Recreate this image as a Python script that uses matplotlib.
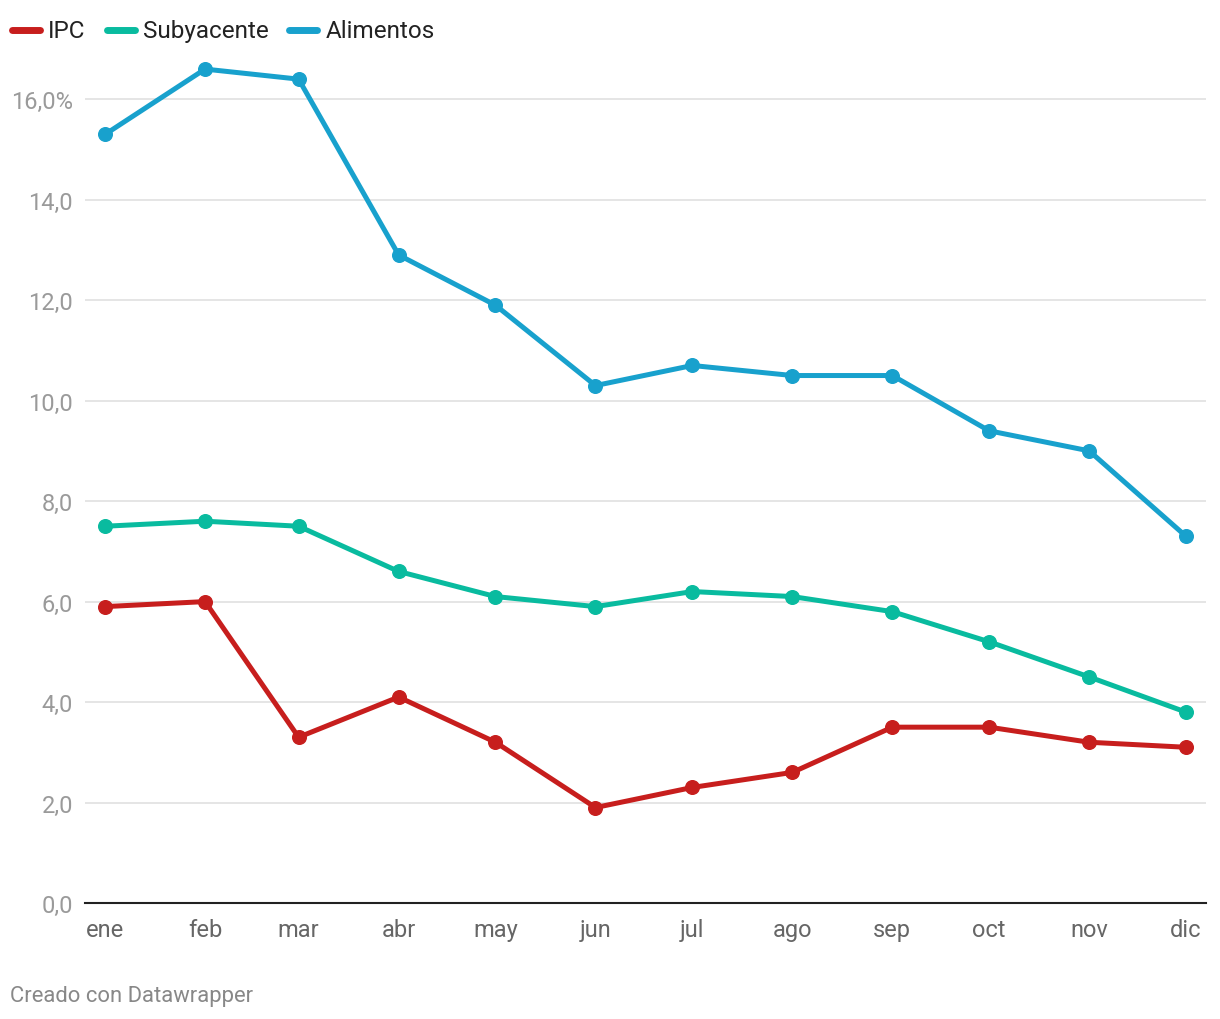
import matplotlib
matplotlib.use("Agg")
import matplotlib.pyplot as plt
import matplotlib.dates as mdates
from matplotlib.lines import Line2D
import numpy as np
import datetime as dt

months = ["ene", "feb", "mar", "abr", "may", "jun", "jul", "ago", "sep", "oct", "nov", "dic"]
dates = [dt.date(2024, m, 1) for m in range(1, 13)]
ipc = [5.9, 6.0, 3.3, 4.1, 3.2, 1.9, 2.3, 2.6, 3.5, 3.5, 3.2, 3.1]
subyacente = [7.5, 7.6, 7.5, 6.6, 6.1, 5.9, 6.2, 6.1, 5.8, 5.2, 4.5, 3.8]
alimentos = [15.3, 16.6, 16.4, 12.9, 11.9, 10.3, 10.7, 10.5, 10.5, 9.4, 9.0, 7.3]
series_names = ["IPC", "Subyacente", "Alimentos"]
colors = ["#c71e1d", "#09bb9f", "#18a1cd"]
yticks = [0, 2, 4, 6, 8, 10, 12, 14, 16]
ytick_labels = ["0,0", "2,0", "4,0", "6,0", "8,0", "10,0", "12,0", "14,0", "16,0%"]

plt.rcParams['font.family'] = ['Roboto', 'DejaVu Sans']

W, H = 1220, 1020
fig = plt.figure(figsize=(12.2, 10.2), dpi=100)
ax = fig.add_axes([85/W, 1 - 904/H, (1206-85)/W, (904-50)/H])

xnum = mdates.date2num(dates)
for vals, name, c in zip([ipc, subyacente, alimentos], series_names, colors):
    ax.plot(xnum, vals, color=c, lw=3.6, marker='o', markersize=9.8,
            solid_capstyle='round', solid_joinstyle='round', label=name, zorder=3)

ax.set_xlim(xnum[0] - 6.2, xnum[-1] + 6.2)
ax.set_ylim(0, 17)
ax.set_yticks(yticks)
ax.set_yticklabels(ytick_labels)
ax.set_xticks(xnum)
ax.set_xticklabels(months)
for s in ["top", "right", "left"]:
    ax.spines[s].set_visible(False)
ax.spines["bottom"].set_color("#222222")
ax.spines["bottom"].set_linewidth(1.5)
ax.grid(axis='y', color='#e3e3e3', lw=1.3, zorder=0)
ax.set_axisbelow(True)
ax.tick_params(axis='y', length=0, pad=8.6, labelsize=17, labelcolor='#9a9a9a')
ax.tick_params(axis='x', length=0, pad=10.5, labelsize=17, labelcolor='#666666')

# manual legend (baseline-aligned texts)
fig.canvas.draw()
renderer = fig.canvas.get_renderer()
x = 12
ly = 31
for name, c in zip(series_names, colors):
    fig.add_artist(Line2D([x / W, (x + 28) / W], [1 - ly / H, 1 - ly / H],
                          color=c, lw=5, solid_capstyle='round',
                          transform=fig.transFigure))
    t = fig.text((x + 36) / W, 1 - (ly + 7) / H, name, fontsize=17.5,
                 color='#222222', va='baseline', ha='left')
    bb = t.get_window_extent(renderer=renderer)
    x = bb.x1 + 21

fig.text(10/W, 1 - 997/H, "Creado con Datawrapper", fontsize=15.8,
         color='#888888', va='center', ha='left')

fig.savefig("out.png", dpi=100, facecolor='white')
